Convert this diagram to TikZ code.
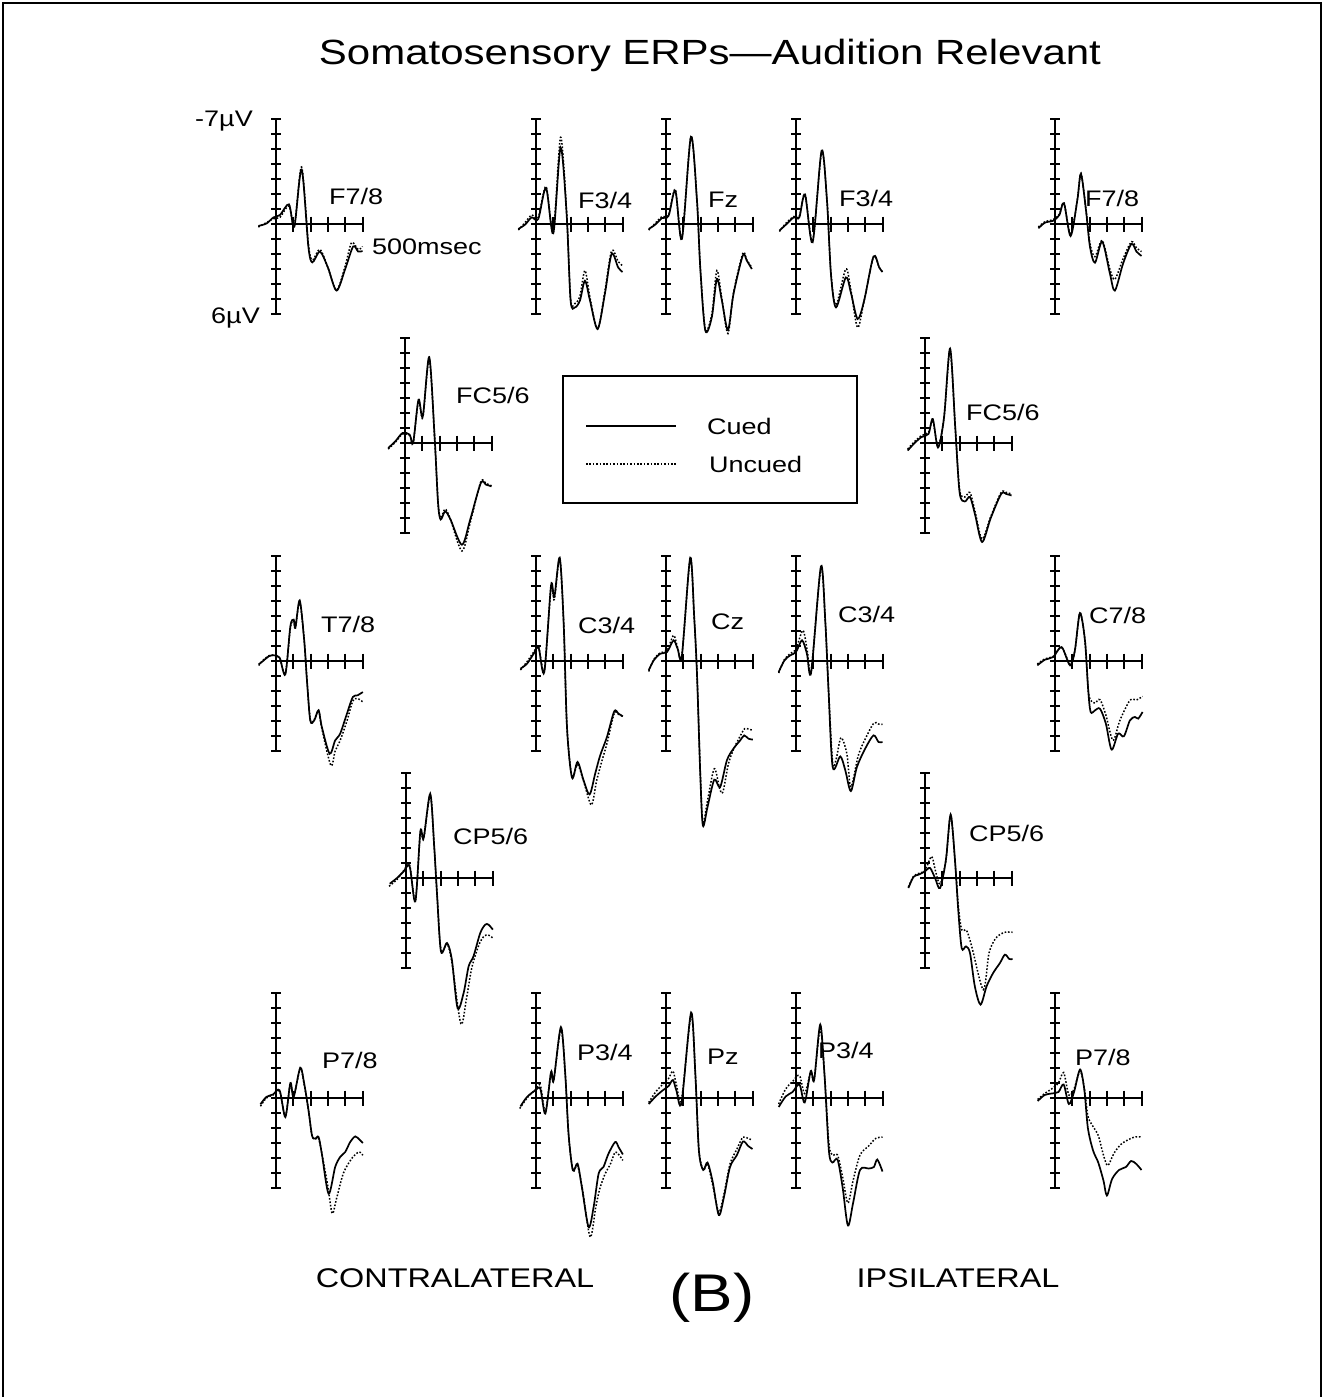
\documentclass[tikz,border=0pt]{standalone}
\usepackage{fontspec}
\setmainfont[FakeStretch=1.2]{Liberation Sans}
\usepackage{tikz}

\begin{document}
\begin{tikzpicture}[x=1pt,y=-1pt,
  ax/.style={line width=2pt},
  cued/.style={line width=1.7pt},
  uncued/.style={line width=1.5pt,dash pattern=on 1.6pt off 1.8pt},
  lbl/.style={font=\fontsize{22.5}{26}\selectfont,inner sep=0pt,anchor=west},
  big/.style={font=\fontsize{27}{32}\selectfont,inner sep=0pt}]
\useasboundingbox (0,0) rectangle (1324,1397);
%% frame
\draw[line width=2pt] (3,1397) -- (3,3) -- (1321,3) -- (1321,1397);

%% axes
\foreach \cx/\cy in {276/224,536/224,666/224,796/224,1055/224,405/443,925/443,
  276/661,536/661,666/661,796/661,1055/661,406/878,925/878,
  276/1098,536/1098,666/1098,796/1098,1055/1098}{
  \draw[ax] (\cx,\cy-105) -- (\cx,\cy+90);
  \draw[ax] (\cx,\cy) -- (\cx+86.5,\cy);
  \foreach \k in {-7,...,6} \draw[ax] (\cx-5,\cy+15*\k) -- (\cx+5,\cy+15*\k);
  \foreach \k in {1,...,5} \draw[ax] (\cx+17.3*\k,\cy-7.5) -- (\cx+17.3*\k,\cy+7.5);
}

%% waves, F row
\begin{scope}[shift={(276,224)},x=17.3pt,y=15pt]
\draw[cued] plot[smooth] coordinates {(-1.02,-0.13) (-0.54,0.04) (-0.15,0.44) (0.23,0.6) (0.75,1.31) (1.06,-0.18) (1.48,3.64) (1.87,-1.5) (2.1,-2.56) (2.54,-1.84) (3.0,-2.9) (3.5,-4.44) (4.0,-3.0) (4.46,-1.5) (4.75,-1.84) (5,-1.8)};
\draw[uncued] plot[smooth] coordinates {(-1.02,-0.2) (-0.54,0.1) (-0.15,0.35) (0.23,0.45) (0.75,1.2) (1.06,-0.1) (1.48,3.8) (1.87,-1.3) (2.1,-2.4) (2.54,-1.7) (3.0,-2.9) (3.5,-4.4) (4.0,-2.8) (4.37,-1.24) (4.75,-1.7) (5,-1.5)};
\end{scope}
\begin{scope}[shift={(536,224)},x=17.3pt,y=15pt]
\draw[cued] plot[smooth] coordinates {(-1.02,-0.33) (-0.63,-0.04) (-0.25,0.44) (0.13,0.33) (0.58,2.4) (1.0,-0.62) (1.42,5.1) (1.77,0.67) (2.0,-5.1) (2.25,-5.56) (2.54,-5.1) (2.83,-3.78) (3.12,-5.1) (3.56,-7.0) (3.98,-4.67) (4.37,-2.0) (4.75,-2.9) (5,-3.2)};
\draw[uncued] plot[smooth] coordinates {(-1.02,-0.4) (-0.63,0.1) (-0.25,0.6) (0.13,0.45) (0.58,2.5) (1.0,-0.5) (1.42,5.78) (1.77,0.8) (2.0,-5.0) (2.25,-5.3) (2.54,-4.8) (2.83,-3.1) (3.12,-4.9) (3.56,-7.0) (3.98,-4.5) (4.37,-1.78) (4.75,-2.5) (5,-2.78)};
\end{scope}
\begin{scope}[shift={(666,224)},x=17.3pt,y=15pt]
\draw[cued] plot[smooth] coordinates {(-1.0,-0.33) (-0.62,-0.04) (-0.23,0.4) (0.15,0.55) (0.54,2.22) (0.92,-1.0) (1.44,5.82) (1.79,1.56) (1.98,-2.9) (2.27,-7.1) (2.65,-6.2) (2.94,-3.67) (3.23,-5.1) (3.58,-7.07) (3.9,-4.67) (4.44,-2.1) (4.67,-2.44) (4.96,-3.0)};
\draw[uncued] plot[smooth] coordinates {(-1.0,-0.4) (-0.62,0.05) (-0.23,0.5) (0.15,0.6) (0.54,2.3) (0.92,-0.9) (1.44,5.8) (1.79,1.6) (1.98,-2.9) (2.27,-7.0) (2.65,-6.0) (2.94,-3.1) (3.23,-5.0) (3.58,-7.3) (3.9,-4.6) (4.44,-1.96) (4.67,-2.4) (4.96,-2.9)};
\end{scope}
\begin{scope}[shift={(796,224)},x=17.3pt,y=15pt]
\draw[cued] plot[smooth] coordinates {(-0.96,-0.44) (-0.58,-0.04) (-0.13,0.44) (0.19,0.44) (0.52,1.96) (0.96,-1.22) (1.48,4.89) (1.79,1.56) (2.02,-3.33) (2.31,-5.56) (2.88,-3.56) (3.17,-4.56) (3.56,-6.33) (3.94,-5.1) (4.48,-2.16) (4.81,-2.9) (5.0,-3.2)};
\draw[uncued] plot[smooth] coordinates {(-0.96,-0.5) (-0.58,0.05) (-0.13,0.5) (0.19,0.5) (0.52,2.0) (0.96,-1.1) (1.48,4.8) (1.79,1.6) (2.02,-3.3) (2.31,-5.4) (2.88,-3.0) (3.17,-4.4) (3.56,-6.9) (3.94,-5.1) (4.48,-2.2) (4.81,-2.9) (5.0,-3.2)};
\end{scope}
\begin{scope}[shift={(1055,224)},x=17.3pt,y=15pt]
\draw[cued] plot[smooth] coordinates {(-0.96,-0.29) (-0.58,0.09) (-0.1,0.22) (0.25,0.6) (0.52,1.38) (0.9,-0.8) (1.29,1.6) (1.5,3.33) (1.79,0.93) (2.02,-1.51) (2.31,-2.58) (2.73,-1.18) (3.17,-3.29) (3.46,-4.44) (3.94,-2.62) (4.42,-1.33) (4.71,-1.84) (5.0,-2.13)};
\draw[uncued] plot[smooth] coordinates {(-0.96,-0.2) (-0.58,0.15) (-0.1,0.3) (0.25,0.65) (0.52,1.4) (0.9,-0.7) (1.29,1.6) (1.5,3.4) (1.79,0.95) (2.02,-1.3) (2.31,-2.18) (2.73,-1.1) (3.17,-3.0) (3.46,-3.69) (3.94,-2.3) (4.42,-1.18) (4.71,-1.6) (5.0,-1.84)};
\end{scope}

%% waves, FC row
\begin{scope}[shift={(405,443)},x=17.3pt,y=15pt]
\draw[cued] plot[smooth] coordinates {(-0.97,-0.33) (-0.56,0.11) (-0.14,0.67) (0.27,0.56) (0.47,0) (0.78,2.89) (1.03,1.78) (1.4,5.73) (1.71,0.44) (1.91,-4.0) (2.06,-5.1) (2.32,-4.56) (2.63,-5.1) (3.29,-6.78) (3.77,-5.1) (4.38,-2.67) (4.69,-2.78) (5.0,-2.89)};
\draw[uncued] plot[smooth] coordinates {(-0.97,-0.4) (-0.56,0.05) (-0.14,0.6) (0.27,0.5) (0.47,0) (0.78,2.8) (1.03,1.7) (1.4,5.6) (1.71,0.4) (1.91,-3.9) (2.06,-5.0) (2.32,-4.4) (2.63,-5.1) (3.29,-7.2) (3.77,-5.3) (4.38,-2.6) (4.69,-2.7) (5.0,-2.85)};
\end{scope}
\begin{scope}[shift={(925,443)},x=17.3pt,y=15pt]
\draw[cued] plot[smooth] coordinates {(-1.0,-0.5) (-0.6,0.0) (-0.2,0.4) (0.2,0.6) (0.45,1.6) (0.75,-0.3) (1.1,1.7) (1.45,6.3) (1.75,1.0) (2.0,-3.3) (2.3,-3.9) (2.6,-3.6) (2.9,-4.8) (3.3,-6.6) (3.8,-5.0) (4.4,-3.4) (4.7,-3.4) (5.0,-3.5)};
\draw[uncued] plot[smooth] coordinates {(-1.0,-0.4) (-0.6,0.1) (-0.2,0.5) (0.2,0.7) (0.45,1.5) (0.75,-0.2) (1.1,1.7) (1.45,6.2) (1.75,1.0) (2.0,-3.1) (2.3,-3.6) (2.6,-3.3) (2.9,-4.6) (3.3,-6.4) (3.8,-4.9) (4.4,-3.3) (4.7,-3.3) (5.0,-3.4)};
\end{scope}

%% waves, C row
\begin{scope}[shift={(276,661)},x=17.3pt,y=15pt]
\draw[cued] plot[smooth] coordinates {(-1.0,-0.22) (-0.75,0) (-0.42,0.31) (-0.13,0.38) (0.21,0.22) (0.54,-0.89) (0.83,2.31) (1.02,2.76) (1.12,2.22) (1.37,4.04) (1.63,1.38) (1.79,-1.29) (1.98,-3.96) (2.21,-3.96) (2.46,-3.29) (2.65,-4.4) (3.1,-6.18) (3.42,-5.29) (3.71,-4.84) (4.1,-3.51) (4.44,-2.4) (4.71,-2.29) (5.02,-2.07)};
\draw[uncued] plot[smooth] coordinates {(-1.0,-0.3) (-0.75,0.05) (-0.42,0.35) (-0.13,0.4) (0.21,0.2) (0.54,-0.85) (0.83,2.2) (1.02,2.7) (1.12,2.2) (1.37,3.95) (1.63,1.4) (1.79,-1.3) (1.98,-3.9) (2.21,-3.9) (2.46,-3.3) (2.65,-4.5) (3.17,-6.96) (3.42,-6.0) (3.71,-5.29) (4.1,-4.0) (4.44,-2.67) (4.71,-2.5) (5.02,-2.73)};
\end{scope}
\begin{scope}[shift={(536,661)},x=17.3pt,y=15pt]
\draw[cued] plot[smooth] coordinates {(-0.9,-0.51) (-0.52,-0.18) (-0.13,0.49) (0.15,0.89) (0.48,-0.73) (0.87,5.04) (1.06,4.27) (1.37,6.89) (1.6,2.49) (1.79,-4.4) (2.08,-7.78) (2.4,-6.73) (2.75,-7.96) (3.1,-8.89) (3.42,-7.51) (3.71,-6.29) (4.1,-5.07) (4.52,-3.36) (4.77,-3.51) (5.02,-3.69)};
\draw[uncued] plot[smooth] coordinates {(-0.9,-0.6) (-0.52,-0.05) (-0.13,0.6) (0.15,0.95) (0.48,-0.6) (0.87,4.9) (1.06,4.1) (1.37,6.8) (1.6,2.5) (1.79,-4.4) (2.08,-7.7) (2.4,-6.9) (2.75,-8.0) (3.2,-9.6) (3.5,-8.0) (3.8,-6.7) (4.1,-5.5) (4.52,-3.5) (4.77,-3.55) (5.02,-3.7)};
\end{scope}
\begin{scope}[shift={(666,661)},x=17.3pt,y=15pt]
\draw[cued] plot[smooth] coordinates {(-1.0,-0.62) (-0.71,0.04) (-0.33,0.49) (0.06,0.6) (0.44,1.38) (0.67,0.82) (0.92,0.38) (1.4,6.89) (1.63,2.93) (1.79,-0.84) (1.98,-7.51) (2.13,-10.96) (2.4,-9.73) (2.79,-7.91) (3.13,-8.4) (3.52,-6.62) (3.9,-5.84) (4.29,-5.29) (4.52,-4.96) (4.77,-5.18) (5.02,-5.24)};
\draw[uncued] plot[smooth] coordinates {(-1.0,-0.7) (-0.71,0.1) (-0.33,0.55) (0.06,0.7) (0.44,1.71) (0.67,0.9) (0.92,0.4) (1.4,6.8) (1.63,2.9) (1.79,-0.8) (1.98,-7.4) (2.13,-10.8) (2.4,-9.3) (2.79,-7.18) (3.1,-8.5) (3.29,-8.73) (3.6,-6.9) (3.9,-5.9) (4.29,-5.0) (4.55,-4.51) (4.8,-4.55) (5.02,-4.62)};
\end{scope}
\begin{scope}[shift={(796,661)},x=17.3pt,y=15pt]
\draw[cued] plot[smooth] coordinates {(-1.0,-0.73) (-0.67,0.04) (-0.33,0.38) (0,0.6) (0.35,1.38) (0.63,0.49) (0.88,-0.73) (1.44,6.31) (1.69,2.71) (1.88,-1.96) (2.12,-7.07) (2.56,-6.36) (2.85,-7.29) (3.17,-8.67) (3.52,-7.07) (4.0,-5.84) (4.48,-4.96) (4.77,-5.4) (5.0,-5.4)};
\draw[uncued] plot[smooth] coordinates {(-1.0,-0.8) (-0.67,0.1) (-0.33,0.5) (0,0.8) (0.4,2.04) (0.65,0.7) (0.88,-0.6) (1.44,6.2) (1.69,2.7) (1.88,-1.9) (2.12,-6.8) (2.33,-6.5) (2.6,-5.11) (2.94,-6.18) (3.17,-8.4) (3.6,-6.3) (4.0,-5.2) (4.5,-4.13) (4.77,-4.2) (5.0,-4.22)};
\end{scope}
\begin{scope}[shift={(1055,661)},x=17.3pt,y=15pt]
\draw[cued] plot[smooth] coordinates {(-1.02,-0.29) (-0.58,0.09) (-0.1,0.27) (0.38,0.93) (0.87,-0.29) (1.15,0.71) (1.44,3.2) (1.73,1.38) (1.92,-1.96) (2.06,-3.4) (2.31,-3.29) (2.6,-3.18) (2.94,-4.18) (3.27,-5.91) (3.65,-4.84) (3.98,-5.02) (4.33,-3.96) (4.62,-3.73) (4.81,-3.84) (5.06,-3.4)};
\draw[uncued] plot[smooth] coordinates {(-1.02,-0.2) (-0.58,0.15) (-0.1,0.3) (0.38,0.9) (0.87,-0.2) (1.15,0.7) (1.44,3.2) (1.73,1.4) (1.92,-1.9) (2.06,-2.62) (2.31,-2.8) (2.6,-2.58) (2.94,-3.6) (3.35,-5.29) (3.75,-3.96) (4.33,-2.62) (4.7,-2.6) (5.06,-2.36)};
\end{scope}

%% waves, CP row
\begin{scope}[shift={(406,878)},x=17.3pt,y=15pt]
\draw[cued] plot[smooth] coordinates {(-0.94,-0.38) (-0.52,0) (-0.13,0.44) (0.21,0.78) (0.54,-1.56) (0.83,3.11) (1.02,2.67) (1.4,5.62) (1.63,2.11) (1.79,-1.0) (2.02,-4.89) (2.37,-4.33) (2.65,-5.44) (2.98,-8.67) (3.33,-7.67) (3.62,-5.89) (3.9,-5.22) (4.29,-3.67) (4.58,-3.11) (4.77,-3.11) (5.02,-3.44)};
\draw[uncued] plot[smooth] coordinates {(-0.98,-0.55) (-0.52,-0.1) (-0.13,0.5) (0.21,0.85) (0.54,-1.5) (0.83,3.0) (1.02,2.6) (1.4,5.5) (1.63,2.1) (1.79,-1.0) (2.02,-4.8) (2.37,-4.4) (2.65,-5.6) (3.17,-9.71) (3.5,-8.0) (3.8,-6.0) (4.2,-4.5) (4.5,-3.89) (4.75,-3.8) (5.02,-4.0)};
\end{scope}
\begin{scope}[shift={(925,878)},x=17.3pt,y=15pt]
\draw[cued] plot[smooth] coordinates {(-0.96,-0.67) (-0.67,0.07) (-0.38,0.22) (0,0.44) (0.29,0.67) (0.58,0) (0.87,-0.67) (1.21,1.22) (1.48,4.22) (1.73,1.22) (1.92,-2.11) (2.12,-4.67) (2.37,-4.56) (2.6,-5.0) (2.88,-7.22) (3.21,-8.44) (3.56,-7.22) (3.94,-6.33) (4.33,-5.67) (4.62,-5.11) (4.87,-5.4) (5.06,-5.4)};
\draw[uncued] plot[smooth] coordinates {(-0.96,-0.6) (-0.67,0.1) (-0.38,0.3) (0,0.5) (0.38,1.44) (0.6,0.5) (0.87,-0.4) (1.21,1.2) (1.48,4.22) (1.73,1.2) (1.92,-1.8) (2.12,-3.44) (2.4,-3.49) (2.7,-4.56) (3.37,-7.44) (3.7,-5.0) (4.1,-4.0) (4.6,-3.62) (5.06,-3.62)};
\end{scope}

%% waves, P row
\begin{scope}[shift={(276,1098)},x=17.3pt,y=15pt]
\draw[cued] plot[smooth] coordinates {(-0.9,-0.42) (-0.56,0.07) (-0.17,0.24) (0.21,0.51) (0.54,-1.27) (0.83,1.0) (1.02,0.07) (1.4,2.02) (1.63,0.96) (1.88,-0.82) (2.08,-2.49) (2.27,-2.71) (2.46,-2.6) (2.65,-3.71) (3.04,-6.38) (3.42,-4.6) (3.71,-3.93) (4.0,-3.6) (4.29,-2.93) (4.58,-2.56) (4.83,-2.78) (5.02,-3.0)};
\draw[uncued] plot[smooth] coordinates {(-0.9,-0.55) (-0.56,0.0) (-0.17,0.2) (0.21,0.45) (0.54,-1.2) (0.83,0.95) (1.02,0.1) (1.4,1.95) (1.63,0.9) (1.88,-0.85) (2.08,-2.5) (2.27,-2.75) (2.46,-2.7) (2.7,-4.0) (3.0,-5.9) (3.25,-7.7) (3.5,-6.7) (3.9,-5.0) (4.4,-4.0) (4.8,-3.6) (5.02,-3.82)};
\end{scope}
\begin{scope}[shift={(536,1098)},x=17.3pt,y=15pt]
\draw[cued] plot[smooth] coordinates {(-0.9,-0.56) (-0.52,0.07) (-0.04,0.51) (0.25,0.62) (0.54,-1.04) (0.87,1.73) (1.02,1.18) (1.44,4.73) (1.69,1.62) (1.88,-2.38) (2.13,-4.82) (2.4,-4.38) (2.65,-5.93) (3.04,-8.6) (3.33,-7.27) (3.62,-5.04) (3.9,-4.6) (4.19,-3.71) (4.58,-2.93) (4.77,-3.27) (5.02,-3.76)};
\draw[uncued] plot[smooth] coordinates {(-0.94,-0.7) (-0.52,0.0) (-0.04,0.55) (0.25,0.85) (0.54,-0.9) (0.87,1.7) (1.02,1.15) (1.44,4.6) (1.69,1.6) (1.88,-2.4) (2.13,-4.8) (2.4,-4.5) (2.7,-6.2) (3.13,-9.27) (3.45,-7.3) (3.7,-6.0) (4.0,-5.04) (4.3,-4.4) (4.58,-3.6) (4.8,-3.8) (5.02,-4.16)};
\end{scope}
\begin{scope}[shift={(666,1098)},x=17.3pt,y=15pt]
\draw[cued] plot[smooth] coordinates {(-1.0,-0.4) (-0.6,0.1) (-0.2,0.5) (0.15,0.8) (0.4,1.2) (0.6,0.5) (0.9,-0.3) (1.45,5.7) (1.7,1.5) (1.9,-3.5) (2.15,-4.8) (2.4,-4.3) (2.7,-5.6) (3.05,-7.8) (3.35,-6.6) (3.7,-4.6) (4.1,-3.8) (4.45,-2.9) (4.75,-3.2) (5.0,-3.4)};
\draw[uncued] plot[smooth] coordinates {(-1.0,-0.3) (-0.6,0.4) (-0.2,0.9) (0.15,1.3) (0.4,1.8) (0.6,0.9) (0.9,-0.1) (1.45,5.5) (1.7,1.5) (1.9,-3.4) (2.15,-4.8) (2.4,-4.4) (2.7,-5.8) (3.05,-7.6) (3.35,-6.4) (3.7,-4.4) (4.1,-3.4) (4.45,-2.6) (4.75,-2.7) (5.0,-2.8)};
\end{scope}
\begin{scope}[shift={(796,1098)},x=17.3pt,y=15pt]
\draw[cued] plot[smooth] coordinates {(-1.0,-0.6) (-0.6,0.1) (-0.2,0.4) (0.2,0.9) (0.5,-0.3) (0.85,1.8) (1.05,1.2) (1.4,4.9) (1.65,1.5) (1.9,-3.5) (2.1,-4.3) (2.4,-4.1) (2.7,-6.0) (3.0,-8.5) (3.3,-7.0) (3.7,-4.8) (4.2,-4.7) (4.5,-4.6) (4.7,-4.1) (5.0,-4.9)};
\draw[uncued] plot[smooth] coordinates {(-1.0,-0.4) (-0.6,0.6) (-0.2,1.1) (0.2,1.5) (0.5,0.3) (0.85,1.7) (1.05,1.3) (1.4,4.6) (1.65,1.5) (1.9,-3.0) (2.1,-3.8) (2.4,-3.8) (2.7,-5.3) (3.0,-7.0) (3.3,-5.5) (3.7,-3.8) (4.2,-3.2) (4.6,-2.7) (5.0,-2.6)};
\end{scope}
\begin{scope}[shift={(1055,1098)},x=17.3pt,y=15pt]
\draw[cued] plot[smooth] coordinates {(-1.0,-0.2) (-0.6,0.2) (-0.2,0.3) (0.2,0.4) (0.5,0.9) (0.8,-0.4) (1.1,0.4) (1.45,1.9) (1.7,0.5) (1.9,-2.0) (2.2,-3.5) (2.5,-4.3) (2.8,-5.5) (3.0,-6.5) (3.3,-5.4) (3.7,-4.8) (4.1,-4.6) (4.4,-4.2) (4.7,-4.4) (5.0,-4.8)};
\draw[uncued] plot[smooth] coordinates {(-1.0,-0.1) (-0.6,0.3) (-0.2,0.6) (0.2,1.0) (0.5,1.7) (0.8,0.2) (1.1,0.6) (1.45,1.8) (1.7,0.6) (1.9,-1.2) (2.2,-1.9) (2.5,-2.5) (2.8,-3.8) (3.05,-4.5) (3.4,-3.7) (3.8,-3.1) (4.2,-2.8) (4.6,-2.6) (5.0,-2.6)};
\end{scope}

%% legend
\draw[line width=1.2pt] (563,376) rectangle (857,503);
\draw[cued] (586,426) -- (676,426);
\draw[uncued] (586,464) -- (676,464);
\node[lbl] (cued) at (707,426) {Cued};
\node[lbl] (uncued) at (709,464) {Uncued};

%% labels
\node (title) at (710,55) {\fontsize{35}{40}\selectfont Somatosensory ERPs—Audition Relevant};
\node[lbl,anchor=east] (top) at (253,121) {-7µV};
\node[lbl,anchor=east] (bot) at (260,318) {6µV};
\node[lbl] (msec) at (372,247) {500msec};

\node[lbl] (f7l) at (329,196) {F7/8};
\node[lbl] (f3l) at (578,200) {F3/4};
\node[lbl] (fz) at (708,200) {Fz};
\node[lbl] (f3r) at (839,198) {F3/4};
\node[lbl] (f7r) at (1085,198) {F7/8};
\node[lbl] (fc5l) at (456,395) {FC5/6};
\node[lbl] (fc5r) at (966,412) {FC5/6};
\node[lbl] (t7) at (321,624) {T7/8};
\node[lbl] (c3l) at (578,625) {C3/4};
\node[lbl] (cz) at (711,622) {Cz};
\node[lbl] (c3r) at (838,614) {C3/4};
\node[lbl] (c7) at (1089,615) {C7/8};
\node[lbl] (cp5l) at (453,836) {CP5/6};
\node[lbl] (cp5r) at (969,833) {CP5/6};
\node[lbl] (p7l) at (322,1060) {P7/8};
\node[lbl] (p3l) at (577,1052) {P3/4};
\node[lbl] (pz) at (707,1057) {Pz};
\node[lbl] (p3r) at (818,1050) {P3/4};
\node[lbl] (p7r) at (1075,1057) {P7/8};

\node[big] (contra) at (455,1278) {CONTRALATERAL};
\node[font=\fontsize{53}{60}\selectfont,inner sep=0pt] (panel) at (712,1298) {(B)};
\node[big] (ipsi) at (958,1278) {IPSILATERAL};
\end{tikzpicture}
\end{document}
